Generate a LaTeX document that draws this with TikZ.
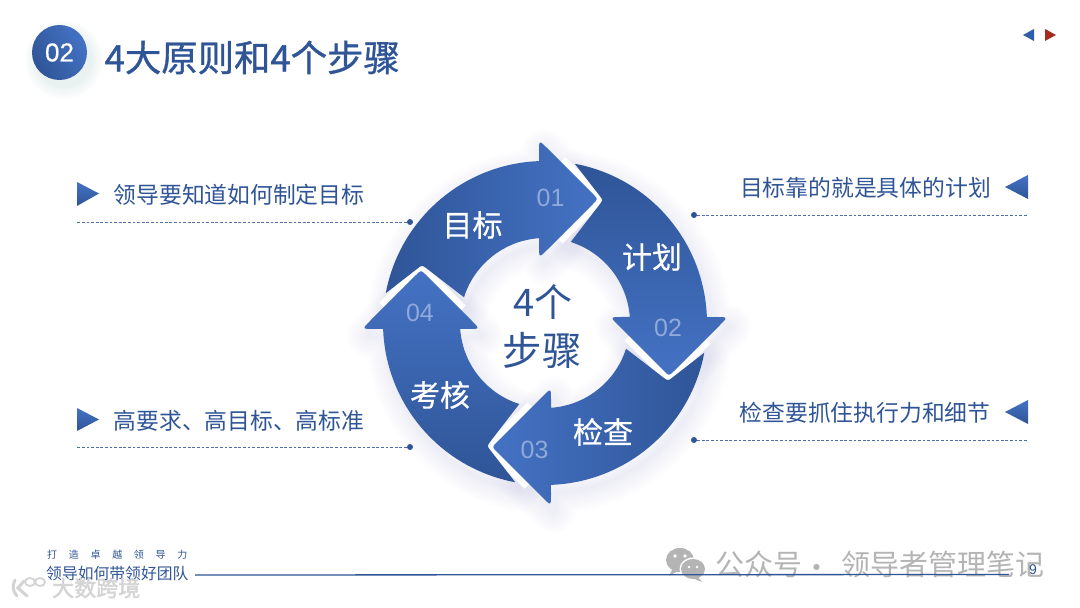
\documentclass[tikz,border=0pt]{standalone}
\usepackage{fontspec}
\setmainfont{Liberation Sans}
\newfontfamily\cjk{Noto Sans CJK SC}
\newfontfamily\cjkmid[FakeBold=1.0]{Noto Sans CJK SC}
\newfontfamily\cjklab[FakeBold=0.5]{Noto Sans CJK SC}
\newfontfamily\cjkwm[FakeBold=2]{Noto Sans CJK SC}
\newfontfamily\sansmid[FakeBold=0.5]{Liberation Sans}
\usetikzlibrary{shapes.geometric}
\definecolor{dk}{HTML}{2F5597}
\definecolor{lt}{HTML}{4472C4}
\definecolor{numc}{HTML}{8FA9DA}
\definecolor{wm}{HTML}{B4B4B4}
\definecolor{cornerblue}{HTML}{2F5FA8}
\definecolor{cornerred}{HTML}{A52A1F}
\newcommand\fs[1]{\fontsize{#1}{#1}\selectfont}
\newcommand\headcurve{(-6,171) .. controls (-6,183) .. (2.5,174.5) -- (48,129) .. controls (53,124) .. (48,119) -- (2.5,73.5) .. controls (-6,65) .. (-6,77)}
\newcommand\notchline{(15.8,161.2) -- (48,129) .. controls (53,124) .. (48,119) -- (13,84)}
\newcommand\segpath{(169.4:162) arc[start angle=169.4,end angle=92.1,radius=162] -- \headcurve -- (-6,84.8) arc[start angle=94.05,end angle=162.4,radius=85] -- (-118.2,54.4) .. controls (-123,58) .. (-127.7,54.3) -- cycle}
\tikzset{
  sidetext/.style={text=dk,font=\cjk\fs{22.8},inner sep=0pt,anchor=center},
  lab/.style={text=white,font=\cjklab\fs{30},inner sep=0pt},
  num/.style={text=numc,font=\fs{25},inner sep=0pt},
  dot/.style={circle,fill=dk,inner sep=0pt,minimum size=6pt},
  dashln/.style={draw=dk!85,line width=0.6pt,dash pattern=on 2.8pt off 1.8pt},
  notemark/.style={top color=lt,bottom color=dk,draw=none},
  wmtext/.style={text=wm,font=\cjk\fs{29},inner sep=0pt}
}
\begin{document}
\begin{tikzpicture}[x=1pt,y=1pt]
\useasboundingbox (0,0) rectangle (1080,608);
\fill[white] (0,0) rectangle (1080,608);
% header badge shadow
\foreach \w in {2,5,...,22}{\fill[dk,opacity=0.012] (64,548) circle[radius=27+\w*0.6];}
\shade[top color=lt,bottom color=dk,shading angle=-60] (59.5,555.5) circle[radius=27.5];
\node[text=white,font=\sansmid\fs{26},inner sep=0pt] (badge) at (59.5,555.5) {02};
\node[text=dk,font=\cjkmid\fs{36.4},inner sep=0pt,anchor=west] (title) at (104.5,550.5) {4大原则和4个步骤};
% corner marks
\fill[cornerblue] (1034,579) -- (1023,573) -- (1034,567) -- cycle;
\fill[cornerred] (1045,579) -- (1056,573) -- (1045,567) -- cycle;
% ring shadows
\begin{scope}[shift={(549,277)}]
\foreach \k in {0,1,2,3}{
  \foreach \w in {3,8,...,43}{
    \draw[dk,line width=\w pt,opacity=0.006,line join=round,rotate=-90*\k] \segpath;
  }
}
\end{scope}
% ring
\begin{scope}[shift={(545,285)}]
\foreach \k in {0,1,2,3}{
  \draw[white,line width=13pt,line join=round,rotate=-90*\k] \notchline;
}
\foreach \k in {0,1,2,3}{
  \pgfmathsetmacro\ang{-90-90*\k}
  \shade[top color=lt,bottom color=dk,shading angle=\ang,rotate=-90*\k] \segpath;
}
\end{scope}
\node[lab] (goal) at (472.5,383) {目标};
\node[lab] (plan) at (652,351) {计划};
\node[lab] (check) at (603,176) {检查};
\node[lab] (assess) at (440,213) {考核};
\node[num] (n1) at (550.5,410) {01};
\node[num] (n2) at (668,280) {02};
\node[num] (n3) at (534.5,158) {03};
\node[num] (n4) at (420,295) {04};
\node[text=dk,font=\cjk\fs{38},inner sep=0pt] (c1) at (543,306) {4个};
\node[text=dk,font=\cjk\fs{39.5},inner sep=0pt] (c2) at (542,258) {步骤};
% left notes
\shade[notemark] (77,426) -- (99,414.5) -- (77,402) -- cycle;
\shade[notemark] (77,200) -- (99,188.5) -- (77,177) -- cycle;
\node[sidetext] (t1) at (239,413.5) {领导要知道如何制定目标};
\node[sidetext] (t4) at (239,187.5) {高要求、高目标、高标准};
\node[dot] (d1) at (410,386) {};
\node[dot] (d4) at (410,161) {};
\coordinate (e1) at (76,386);
\coordinate (e4) at (76,161);
\draw[dashln] (d1) -- (e1);
\draw[dashln] (d4) -- (e4);
% right notes
\shade[notemark] (1028,433) -- (1005,421) -- (1028,409) -- cycle;
\shade[notemark] (1028,208) -- (1005,196) -- (1028,184) -- cycle;
\node[sidetext] (t2) at (865.5,420.5) {目标靠的就是具体的计划};
\node[sidetext] (t3) at (865,195.5) {检查要抓住执行力和细节};
\node[dot] (d2) at (694,393) {};
\node[dot] (d3) at (694,168) {};
\coordinate (e2) at (1028,393);
\coordinate (e3) at (1028,168);
\draw[dashln] (d2) -- (e2);
\draw[dashln] (d3) -- (e3);
% footer
\node[text=dk,font=\cjk\fs{10},inner sep=0pt,anchor=west] (f1) at (47,53) {打\hspace{11.7pt}造\hspace{11.7pt}卓\hspace{11.7pt}越\hspace{11.7pt}领\hspace{11.7pt}导\hspace{11.7pt}力};
\node[text=dk,font=\cjk\fs{15.8},inner sep=0pt,anchor=west] (f2) at (46,34) {领导如何带领好团队};
\coordinate (ls) at (195,33);
\coordinate (le) at (1009,33.5);
% watermark
\fill[wm] (680,48) ellipse[x radius=14,y radius=12];
\fill[wm] (672,38) -- (669,32) -- (678,37) -- cycle;
\fill[white] (693,39) ellipse[x radius=13.5,y radius=11.5];
\fill[wm] (693,39) ellipse[x radius=12,y radius=10];
\fill[wm] (698,31) -- (702,26) -- (692,30) -- cycle;
\fill[white] (675,52) circle[radius=1.9] (685,52) circle[radius=1.9] (689,41) circle[radius=1.4] (697,41) circle[radius=1.4];
\node[wmtext,anchor=west] (wm1) at (715,43.5) {公众号};
\node[wmtext] (wmdot) at (817,37) {·};
\node[wmtext,anchor=east] (wm2) at (1045,43.5) {领导者管理笔记};
\draw[dk,line width=1.3pt] (ls) -- (le);
\node[text=dk,font=\fs{14},inner sep=0pt] (pg) at (1033,38) {9};
\node[text=black!17,font=\cjkwm\fs{22},inner sep=0pt,anchor=west] (wm3) at (52,20) {大数跨境};
\draw[black!17,line width=3pt,line cap=round] (15,28) .. controls (12,22) and (13,16) .. (17,12) (24,27) -- (18,20) -- (27,12);
\draw[black!17,line width=1.8pt] (30,26) ellipse[x radius=5,y radius=4] (40,26) ellipse[x radius=5,y radius=4];
\end{tikzpicture}
\end{document}
